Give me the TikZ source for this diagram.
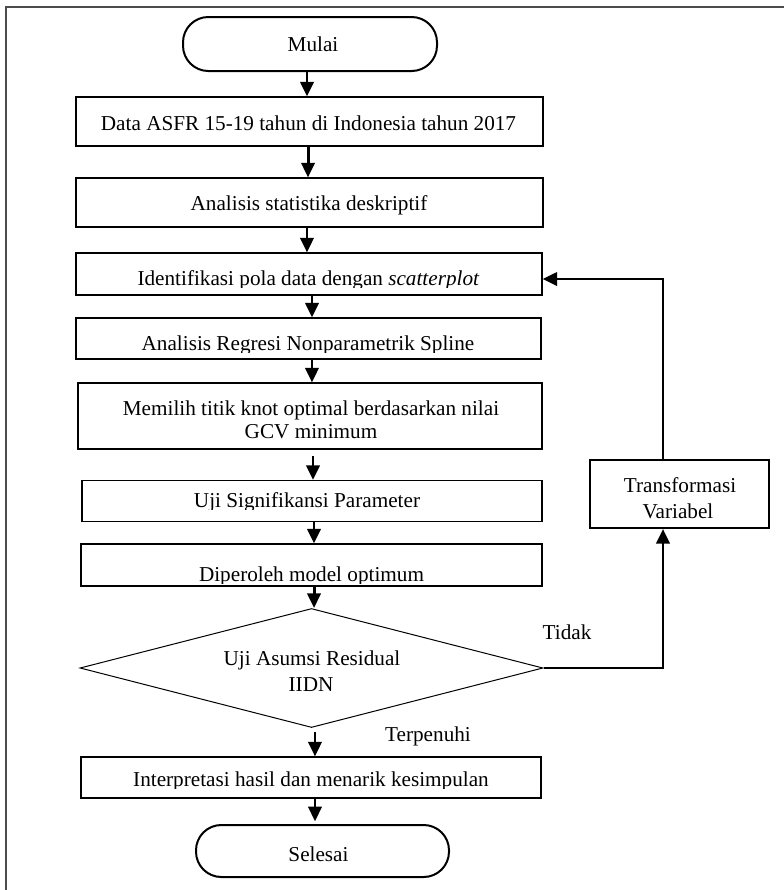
\documentclass[tikz,border=0pt]{standalone}
\usepackage{fontspec}
\setmainfont{Liberation Serif}
\usetikzlibrary{arrows.meta,shapes.geometric}
\begin{document}
\begin{tikzpicture}[x=0.75pt,y=-0.75pt,
  box/.style={draw, line width=0.85pt, inner sep=0pt},
  term/.style={draw, line width=1.5pt, rounded corners=19pt, inner sep=0pt},
  decision/.style={draw, shape=diamond, line width=0.75pt, inner sep=0pt},
  txt/.style={font=\fontsize{15.9pt}{18pt}\selectfont, inner sep=0pt, anchor=base},
  arr/.style={line width=2.2pt, -{Triangle[length=11pt,width=10pt]}},
  flow/.style={line width=2.2pt}]
\useasboundingbox (0,0) rectangle (784,890);
% outer frame
\draw[line width=1.1pt, black!70] (6,890) -- (6,7) -- (784,7);

% shapes
\node[term, minimum width=190.5pt, minimum height=40.5pt] (mulai) at (310,44) {};
\node[box, minimum width=350.25pt, minimum height=36.75pt] (box1) at (309.5,121.5) {};
\node[box, minimum width=350.25pt, minimum height=36.75pt] (box2) at (309.5,202.5) {};
\node[box, minimum width=349.5pt, minimum height=31.5pt] (box3) at (309,274) {};
\node[box, minimum width=348.75pt, minimum height=30.75pt] (box4) at (308.5,338.5) {};
\node[box, minimum width=348pt, minimum height=49.5pt] (box5) at (310,416) {};
\node[box, minimum width=345pt, minimum height=30.75pt] (box6) at (312,501) {};
\node[box, minimum width=345.75pt, minimum height=31.5pt] (box7) at (311.5,565) {};
\node[decision, minimum width=347.25pt, minimum height=89.25pt] (dia) at (311.5,668) {};
\node[box, minimum width=345pt, minimum height=30.75pt] (box8) at (311,777.5) {};
\node[term, minimum width=189.75pt, minimum height=39pt] (selesai) at (322.5,851) {};
\node[box, line width=1.5pt, minimum width=134.25pt, minimum height=51pt] (trans) at (679.5,494) {};

% texts
\node[txt] (tmulai) at (313,51) {Mulai};
\node[txt] (t1) at (308.5,130) {Data ASFR 15-19 tahun di Indonesia tahun 2017};
\node[txt] (t2) at (309,210) {Analisis statistika deskriptif};
\begin{scope}
  \clip (76,255) rectangle (542,287);
  \node[txt] (t3) at (308.5,285) {Identifikasi pola data dengan \textit{scatterplot}};
\end{scope}
\begin{scope}
  \clip (76,320) rectangle (542,352);
  \node[txt] (t4) at (308,350) {Analisis Regresi Nonparametrik Spline};
\end{scope}
\node[txt] (t5a) at (311,415) {Memilih titik knot optimal berdasarkan nilai};
\node[txt] (t5b) at (311,438) {GCV minimum};
\begin{scope}
  \clip (82,483) rectangle (542,509);
  \node[txt] (t6) at (307,507) {Uji Signifikansi Parameter};
\end{scope}
\begin{scope}
  \clip (81,546) rectangle (542,583);
  \node[txt] (t7) at (311.5,581) {Diperoleh model optimum};
\end{scope}
\node[txt] (td1) at (312,665) {Uji Asumsi Residual};
\node[txt] (td2) at (311,691) {IIDN};
\node[txt] (ttidak) at (567,639) {Tidak};
\node[txt] (tterp) at (428,741) {Terpenuhi};
\begin{scope}
  \clip (81,759) rectangle (541,788);
  \node[txt] (t8) at (311,786) {Interpretasi hasil dan menarik kesimpulan};
\end{scope}
\node[txt] (tsel) at (318.5,861) {Selesai};
\node[txt] (ttr1) at (680,492) {Transformasi};
\node[txt] (ttr2) at (678,518) {Variabel};

% main flow arrows
\coordinate (a1) at ([xshift=-2.25pt]mulai.south);
\draw[arr] (a1) -- (a1 |- box1.north);
\coordinate (a2) at ([xshift=-1.1pt]box1.south);
\draw[arr] (a2) -- (a2 |- box2.north);
\coordinate (a3) at ([xshift=-1.9pt]box2.south);
\draw[arr] (a3) -- (a3 |- box3.north);
\coordinate (a4) at ([xshift=2.25pt]box3.south);
\draw[arr] (a4) -- (a4 |- box4.north);
\coordinate (a5) at ([xshift=2.6pt]box4.south);
\draw[arr] (a5) -- (a5 |- box5.north);
\coordinate (a6) at ([xshift=2.25pt,yshift=-5pt]box5.south);
\draw[arr] (a6) -- (a6 |- box6.north);
\coordinate (a7) at ([xshift=1.5pt]box6.south);
\draw[arr] (a7) -- (a7 |- box7.north);
\coordinate (a8) at ([xshift=1.9pt]box7.south);
\draw[arr] (a8) -- (a8 |- dia.north);
\coordinate (a9) at ([xshift=2.6pt,yshift=-3pt]dia.south);
\draw[arr] (a9) -- (a9 |- box8.north);
\coordinate (a10) at ([xshift=3pt]box8.south);
\draw[arr] (a10) -- ([yshift=2pt]a10 |- selesai.north);

% feedback loop
\coordinate (fb) at (663,0);
\coordinate (fy) at (0,279);
\draw[arr] (dia.east) -- (dia.east -| fb) -- (fb |- trans.south);
\draw[arr] (fb |- trans.north) -- (fb |- fy) -- (box3.east |- fy);
\end{tikzpicture}
\end{document}
